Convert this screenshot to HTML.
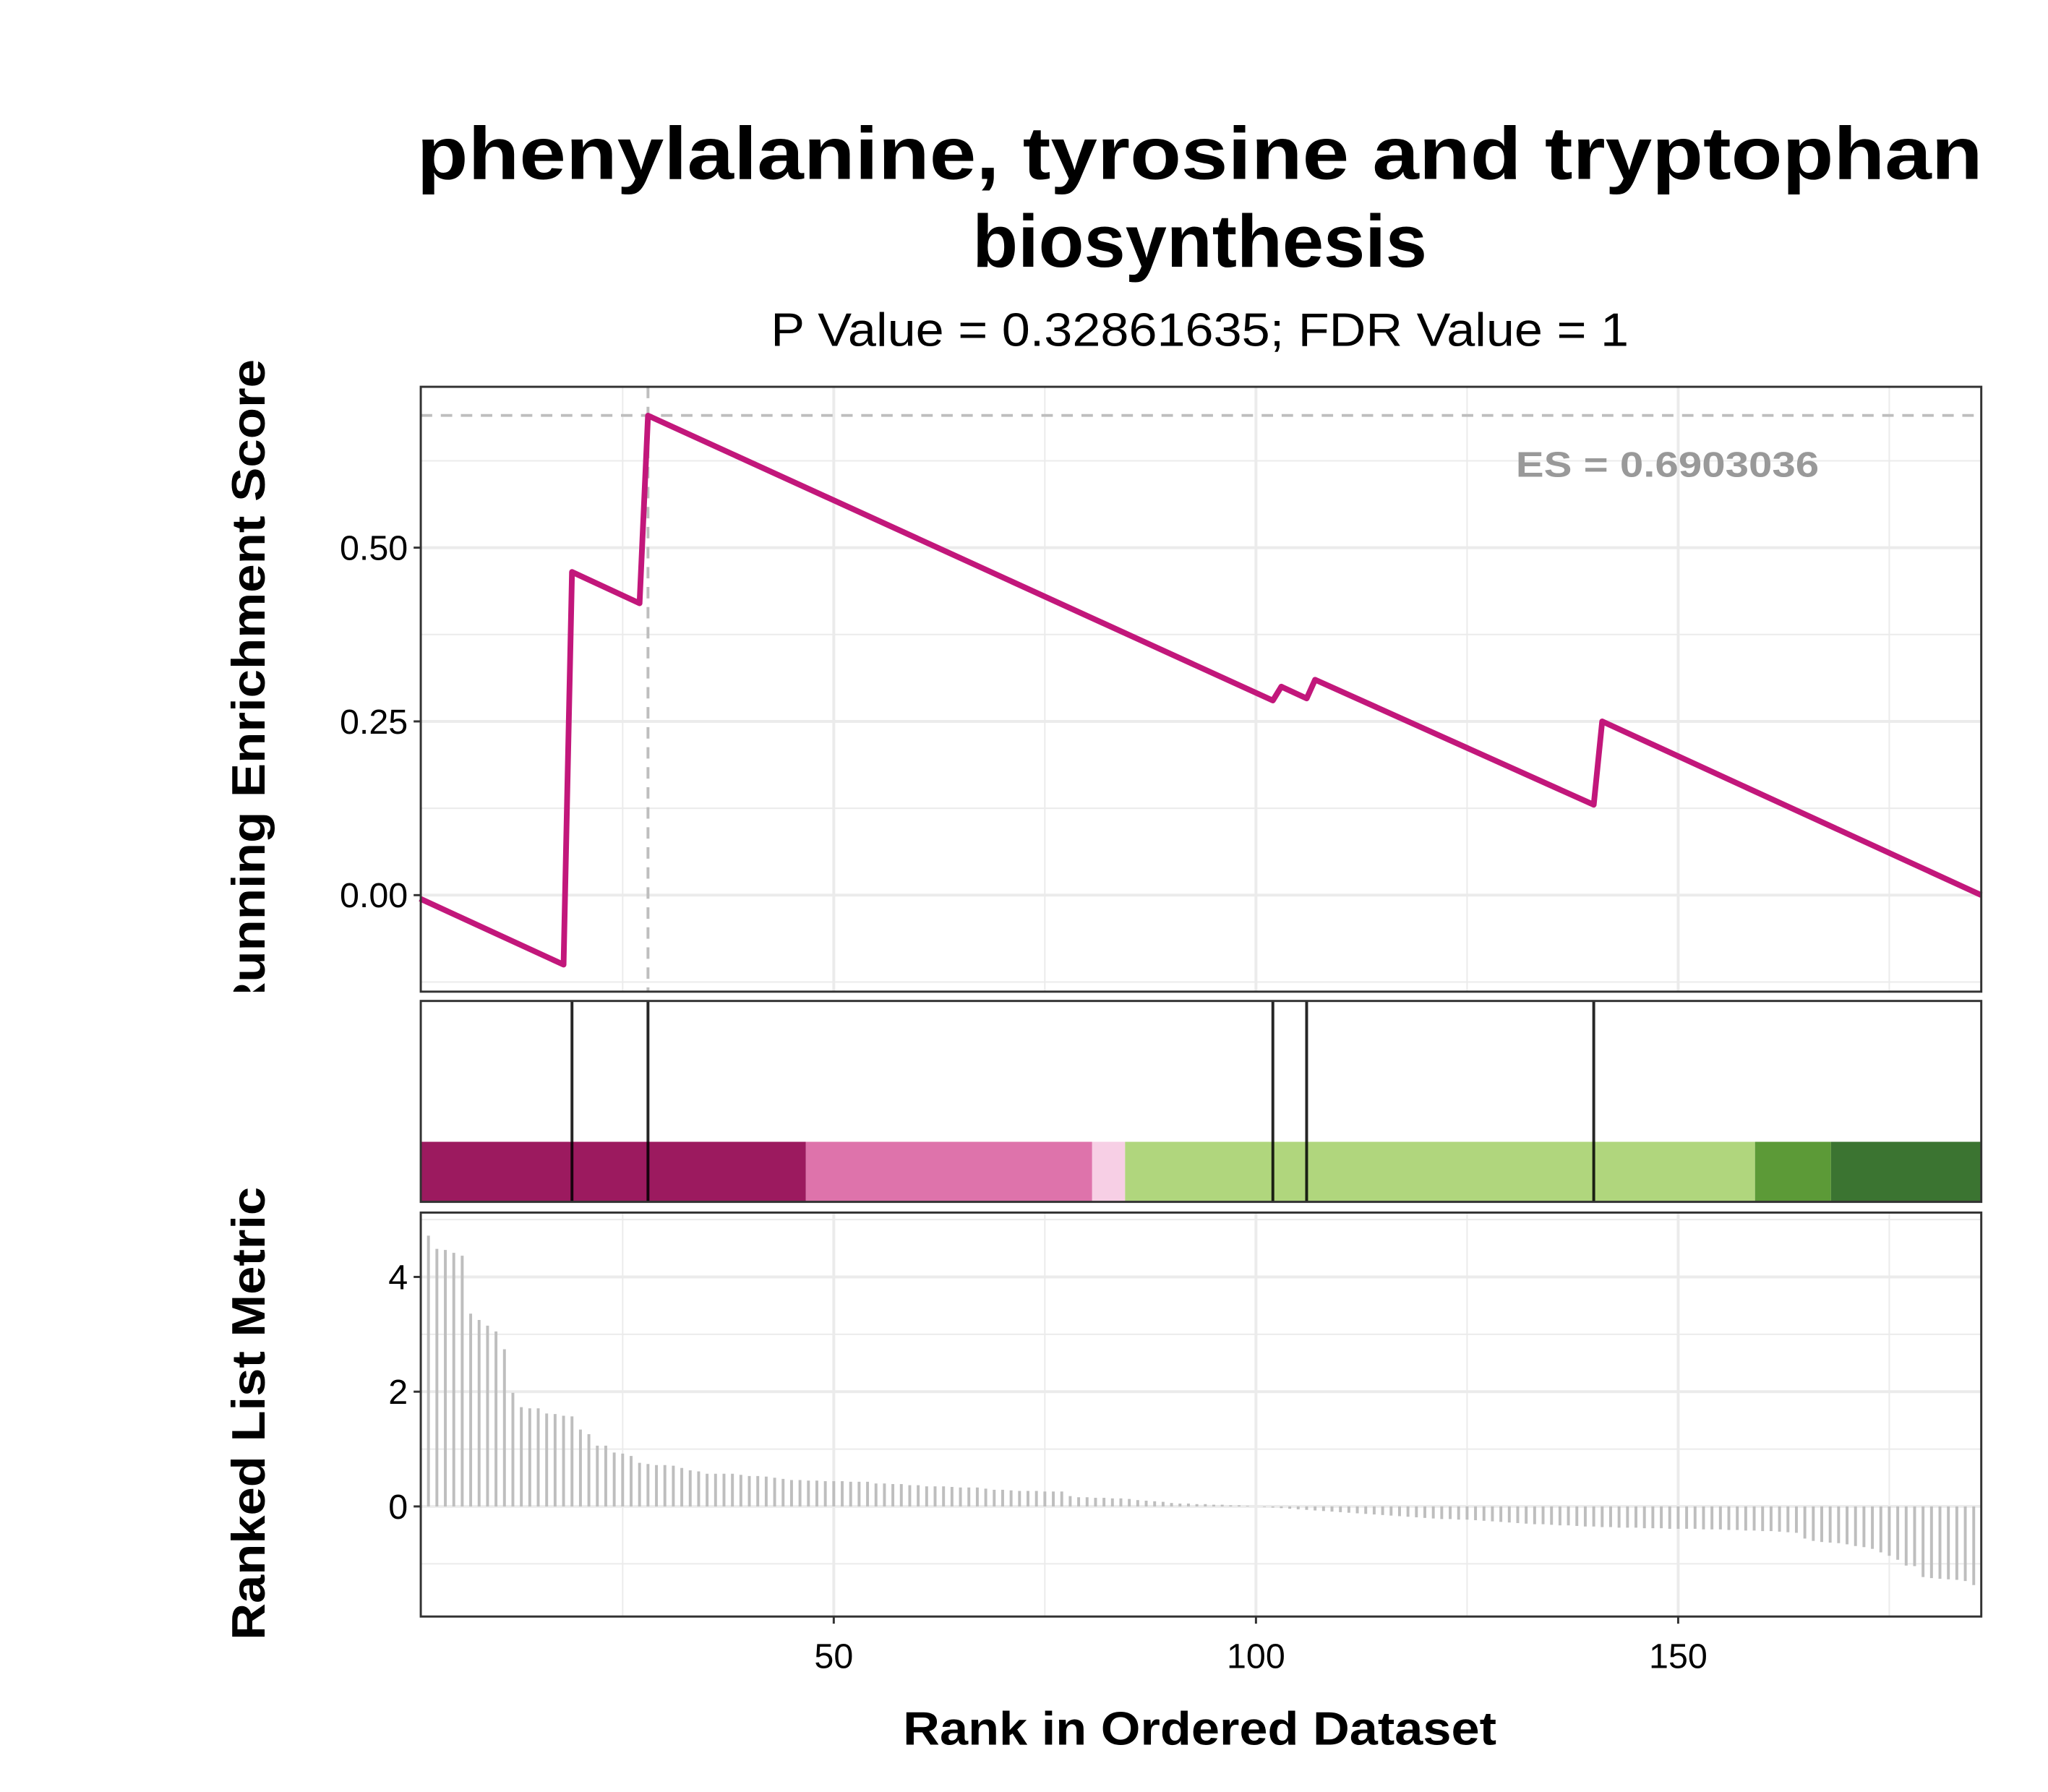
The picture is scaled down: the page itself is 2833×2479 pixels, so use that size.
<!DOCTYPE html>
<html><head><meta charset="utf-8"><style>
html,body{margin:0;padding:0;background:#fff;}
svg{display:block;font-family:"Liberation Sans",Arial,sans-serif;}
</style></head><body>
<svg id="chart" xmlns="http://www.w3.org/2000/svg" width="2833" height="2479" viewBox="0 0 2833 2479">
<defs><clipPath id="clipTop"><rect x="0" y="0" width="2833" height="1387"/></clipPath></defs>
<g transform="scale(0.98906)">
<text x="1678" y="250" font-size="104" font-weight="bold" text-anchor="middle" textLength="2190" lengthAdjust="spacingAndGlyphs">phenylalanine, tyrosine and tryptophan</text>
<text x="1678" y="373" font-size="104" font-weight="bold" text-anchor="middle">biosynthesis</text>
<text x="1678" y="484" font-size="66" text-anchor="middle" textLength="1200" lengthAdjust="spacingAndGlyphs">P Value = 0.32861635; FDR Value = 1</text>
<g id="gTop"></g><g id="gMid"></g><g id="gBot"></g>
<g clip-path="url(#clipTop)">
<text transform="translate(370,964) rotate(-90)" font-size="66" font-weight="bold" text-anchor="middle" textLength="923" lengthAdjust="spacingAndGlyphs">Running Enrichment Score</text>
</g>
<text transform="translate(370,1977) rotate(-90)" font-size="66" font-weight="bold" text-anchor="middle" textLength="634" lengthAdjust="spacingAndGlyphs">Ranked List Metric</text>
<text x="1678" y="2440" font-size="66" font-weight="bold" text-anchor="middle" textLength="830" lengthAdjust="spacingAndGlyphs">Rank in Ordered Dataset</text>
</g>
</svg>
<script>
const esRanks=[1,18,19,27,28,102,103,106,107,140,141,185.9];
const esValues=[-0.005,-0.10,0.465,0.42,0.69,0.28,0.30,0.283,0.31,0.13,0.25,0.0];
const hitRanks=[19,28,102,106,140];
const esMax=0.6903036;
const esMaxRank=28;
const bandStarts=[1,46.7,80.6,84.5,159.1,168.1];
const bandEnds=[46.7,80.6,84.5,159.1,168.1,186];
const bandColors=['#9C1A5F','#DE73AB','#F7CFE5','#B0D67D','#5C9A37','#3B7431'];
const metricStartRank=2;
const metricValues=[4.72,4.49,4.47,4.42,4.37,3.36,3.25,3.15,3.05,2.74,
1.98,1.73,1.71,1.71,1.62,1.61,1.58,1.57,1.34,1.26,
1.06,1.06,0.94,0.92,0.88,0.76,0.74,0.72,0.72,0.71,
0.67,0.63,0.61,0.57,0.57,0.57,0.57,0.55,0.53,0.53,
0.52,0.50,0.48,0.46,0.46,0.45,0.45,0.44,0.44,0.44,
0.43,0.43,0.43,0.40,0.40,0.39,0.39,0.37,0.37,0.35,
0.35,0.35,0.34,0.33,0.33,0.33,0.31,0.29,0.29,0.28,
0.27,0.27,0.27,0.26,0.26,0.26,0.18,0.16,0.16,0.15,
0.15,0.14,
0.14,0.13,0.11,0.10,0.09,0.08,0.06,0.05,0.05,0.04,0.04,0.03,0.03,0.02,0.02,0.01,0.00,
-0.01,-0.02,-0.03,-0.04,-0.05,-0.06,-0.07,-0.08,-0.09,-0.10,
-0.11,-0.12,-0.13,-0.14,-0.15,-0.16,-0.17,-0.18,-0.19,-0.20,
-0.21,-0.22,-0.22,-0.23,-0.23,-0.24,-0.25,-0.26,-0.27,-0.28,
-0.29,-0.30,-0.31,-0.31,-0.32,-0.33,-0.33,-0.34,-0.35,-0.35,
-0.36,-0.36,-0.37,-0.37,-0.37,-0.38,-0.38,-0.38,-0.39,-0.39,
-0.39,-0.39,-0.40,-0.40,-0.40,-0.41,-0.41,-0.42,-0.42,-0.43,
-0.43,-0.44,-0.45,-0.46,-0.56,-0.60,-0.62,-0.63,-0.64,-0.66,
-0.69,-0.71,-0.74,-0.80,-0.86,-0.93,-1.03,-1.04,-1.23,-1.25,
-1.26,-1.27,-1.28,-1.30,-1.37];
const xTickValues=[50,100,150];
const xTickLabels=['50','100','150'];
const xMinorValues=[25,75,125,175];
const esTickValues=[0,0.25,0.5];
const esTickLabels=['0.00','0.25','0.50'];
const esMinorValues=[-0.125,0.125,0.375,0.625];
const mTickValues=[0,2,4];
const mTickLabels=['0','2','4'];
const mMinorValues=[-1,1,3,5];

const NS='http://www.w3.org/2000/svg';
const L=588.5,R=2771;
const X0=575.6,XS=11.81;
function xs(r){return X0+XS*r;}
const topT=541,topB=1387;
function ys(v){return 1252-v*972;}
const midT=1400,midB=1681,bandT=1597;
const botT=1696,botB=2261;
function ym(v){return 2107-v*80.25;}
function mk(parent,tag,attrs){const e=document.createElementNS(NS,tag);for(const k in attrs)e.setAttribute(k,attrs[k]);parent.appendChild(e);return e;}
const TF=49;

// TOP PANEL
const gT=document.getElementById('gTop');
let bg=mk(gT,'rect',{x:L,y:topT,width:R-L,height:topB-topT,fill:'#fff'});


esMinorValues.forEach(v=>{const y=ys(v);if(y>topT&&y<topB){const l=mk(gT,'line',{x1:L,x2:R,y1:y,y2:y,stroke:'#EBEBEB','stroke-width':2});

}});
xMinorValues.forEach(v=>{const x=xs(v);const l=mk(gT,'line',{x1:x,x2:x,y1:topT,y2:topB,stroke:'#EBEBEB','stroke-width':2});

});
esTickValues.forEach((v,i)=>{const y=ys(v);const l=mk(gT,'line',{x1:L,x2:R,y1:y,y2:y,stroke:'#EBEBEB','stroke-width':4});


const t=mk(gT,'line',{x1:L-10,x2:L,y1:y,y2:y,stroke:'#333','stroke-width':3});


const tx=mk(gT,'text',{x:L-18,y:y+17,'font-size':TF,'text-anchor':'end',fill:'#000'});tx.textContent=esTickLabels[i];

});
xTickValues.forEach(v=>{const x=xs(v);const l=mk(gT,'line',{x1:x,x2:x,y1:topT,y2:topB,stroke:'#EBEBEB','stroke-width':4});

});
let dh=mk(gT,'line',{x1:L,x2:R,y1:ys(esMax),y2:ys(esMax),stroke:'#BEBEBE','stroke-width':4,'stroke-dasharray':'16,12'});


let dv=mk(gT,'line',{x1:xs(esMaxRank),x2:xs(esMaxRank),y1:topT,y2:topB,stroke:'#BEBEBE','stroke-width':4,'stroke-dasharray':'16,12'});


let pts=esRanks.map((r,i)=>xs(r).toFixed(1)+','+ys(esValues[i]).toFixed(1)).join(' ');
let es=mk(gT,'polyline',{points:pts,fill:'none',stroke:'#C2177B','stroke-width':8,'stroke-linejoin':'round'});


let esl=mk(gT,'text',{x:2332,y:667,'font-size':50,'font-weight':'bold','text-anchor':'middle',fill:'#999',textLength:424,lengthAdjust:'spacingAndGlyphs'});esl.textContent='ES = 0.6903036';


let bt=mk(gT,'rect',{x:L,y:topT,width:R-L,height:topB-topT,fill:'none',stroke:'#333','stroke-width':3});



// MIDDLE PANEL
const gM=document.getElementById('gMid');
bandStarts.forEach((s,i)=>{const x1=Math.max(L,xs(s)),x2=Math.min(R,xs(bandEnds[i]));const r=mk(gM,'rect',{x:x1,y:bandT,width:x2-x1,height:midB-bandT,fill:bandColors[i]});

});
hitRanks.forEach(h=>{const x=xs(h);const l=mk(gM,'line',{x1:x,x2:x,y1:midT,y2:midB,stroke:'#000','stroke-width':4,'stroke-opacity':0.85});

});
let bm=mk(gM,'rect',{x:L,y:midT,width:R-L,height:midB-midT,fill:'none',stroke:'#333','stroke-width':3});



// BOTTOM PANEL
const gB=document.getElementById('gBot');
mMinorValues.forEach(v=>{const y=ym(v);if(y>botT&&y<botB){const l=mk(gB,'line',{x1:L,x2:R,y1:y,y2:y,stroke:'#EBEBEB','stroke-width':2});

}});
xMinorValues.forEach(v=>{const x=xs(v);const l=mk(gB,'line',{x1:x,x2:x,y1:botT,y2:botB,stroke:'#EBEBEB','stroke-width':2});

});
mTickValues.forEach((v,i)=>{const y=ym(v);const l=mk(gB,'line',{x1:L,x2:R,y1:y,y2:y,stroke:'#EBEBEB','stroke-width':4});


const t=mk(gB,'line',{x1:L-10,x2:L,y1:y,y2:y,stroke:'#333','stroke-width':3});


const tx=mk(gB,'text',{x:L-18,y:y+17,'font-size':TF,'text-anchor':'end',fill:'#000'});tx.textContent=mTickLabels[i];

});
xTickValues.forEach((v,i)=>{const x=xs(v);const l=mk(gB,'line',{x1:x,x2:x,y1:botT,y2:botB,stroke:'#EBEBEB','stroke-width':4});


const t=mk(gB,'line',{x1:x,x2:x,y1:botB,y2:botB+10,stroke:'#333','stroke-width':3});


const tx=mk(gB,'text',{x:x,y:2333,'font-size':TF,'text-anchor':'middle',fill:'#000'});tx.textContent=xTickLabels[i];

});
metricValues.forEach((v,i)=>{const x=xs(metricStartRank+i);const y0=ym(0),y1=ym(v);
const b=mk(gB,'line',{x1:x,x2:x,y1:y0,y2:y1,stroke:'#BEBEBE','stroke-width':4});

});
let bb=mk(gB,'rect',{x:L,y:botT,width:R-L,height:botB-botT,fill:'none',stroke:'#333','stroke-width':3});


</script>
</body></html>
